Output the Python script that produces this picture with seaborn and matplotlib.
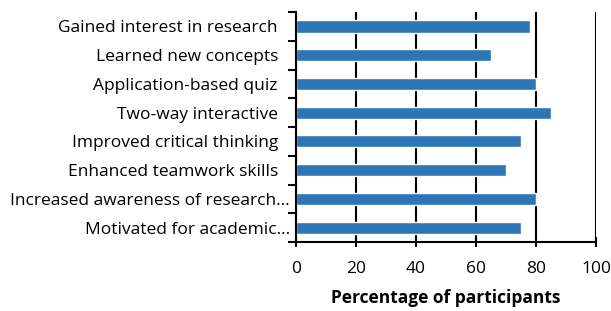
import numpy as np
import pandas as pd
import matplotlib
matplotlib.use('Agg')
import matplotlib.pyplot as plt
import matplotlib.transforms as mtransforms
import seaborn as sns

categories = ['Gained interest in research',
              'Learned new concepts',
              'Application-based quiz',
              'Two-way interactive',
              'Improved critical thinking',
              'Enhanced teamwork skills',
              'Increased awareness of research\u2026',
              'Motivated for academic\u2026']
percentages = [78, 65, 80, 85, 75, 70, 80, 75]
x_ticks = [0, 20, 40, 60, 80, 100]

df = pd.DataFrame({'category': categories, 'pct': percentages})

sns.set_style('white')
plt.rcParams['font.family'] = ['Open Sans', 'DejaVu Sans']
plt.rcParams['text.color'] = 'black'
plt.rcParams['axes.labelcolor'] = 'black'
plt.rcParams['xtick.labelcolor'] = 'black'
plt.rcParams['ytick.labelcolor'] = 'black'

fig = plt.figure(figsize=(6.11, 3.11), dpi=100)
ax = fig.add_axes([0.4845, 0.222, 0.491, 0.739])

sns.barplot(data=df, y='category', x='pct', orient='h', color='#2E75B6',
            saturation=1, width=0.42, ax=ax)

ax.set_xlim(0, 100)
ax.set_ylim(len(categories) - 0.5, -0.5)
ax.set_xticks(x_ticks)
ax.set_xticklabels([str(t) for t in x_ticks], fontsize=12.5)
ax.set_yticks(range(len(categories)))
ax.set_yticklabels(categories, fontsize=12.5)
ax.set_yticks(np.arange(-0.5, len(categories)), minor=True)
ax.tick_params(axis='y', which='major', left=True, length=0, pad=13)
ax.tick_params(axis='y', which='minor', left=True, length=6, width=1.5,
               direction='out', color='black')
ax.tick_params(axis='x', which='major', bottom=True, length=7, width=1.5,
               direction='inout', color='black', pad=10)

# truncated labels sit closer to the axis
shift = mtransforms.ScaledTranslation(12 / 100, 0, fig.dpi_scale_trans)
for lbl in ax.get_yticklabels():
    if lbl.get_text().endswith('\u2026'):
        lbl.set_transform(lbl.get_transform() + shift)

ax.xaxis.grid(True, color='black', linewidth=1.5)
ax.set_axisbelow(True)
for side in ['top', 'right']:
    ax.spines[side].set_visible(False)
for side in ['left', 'bottom']:
    ax.spines[side].set_color('black')
    ax.spines[side].set_linewidth(1.5)

ax.set_ylabel('')
ax.set_xlabel('Percentage of participants', fontsize=12.5, fontweight='bold',
              color='black', labelpad=9)

fig.savefig('out.png', dpi=100)
